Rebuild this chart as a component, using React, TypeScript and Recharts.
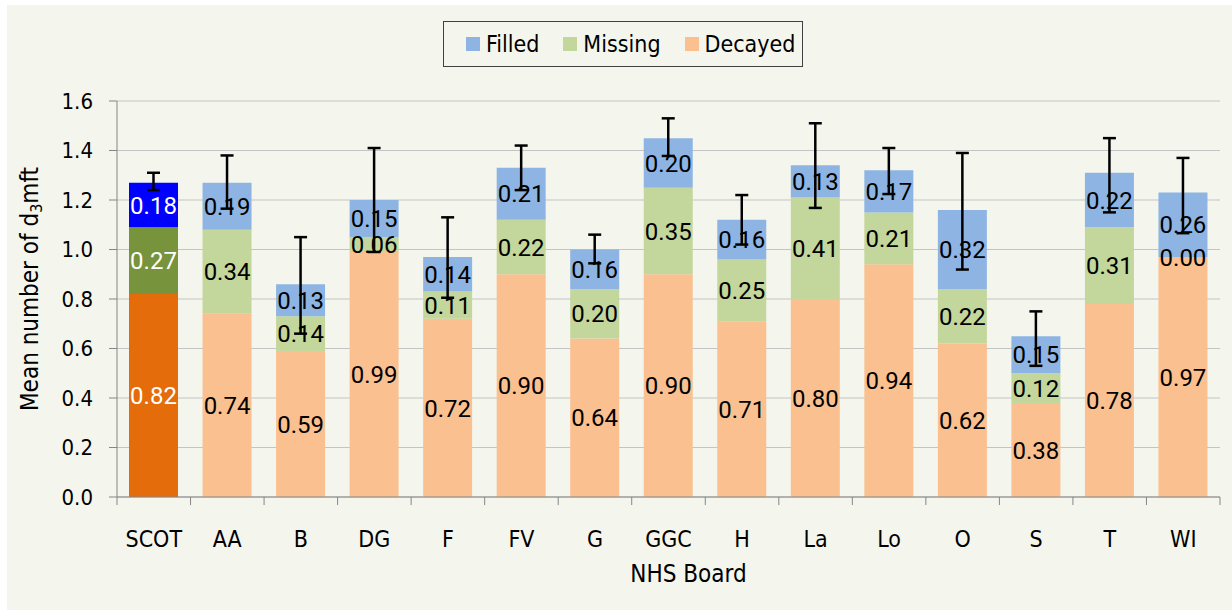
import { BarChart, Bar, XAxis, YAxis, CartesianGrid, ErrorBar, LabelList, Cell } from "recharts";

const boards = ["SCOT", "AA", "B", "DG", "F", "FV", "G", "GGC", "H", "La", "Lo", "O", "S", "T", "WI"];
const decayed = [0.82, 0.74, 0.59, 0.99, 0.72, 0.9, 0.64, 0.9, 0.71, 0.8, 0.94, 0.62, 0.38, 0.78, 0.97];
const missing = [0.27, 0.34, 0.14, 0.06, 0.11, 0.22, 0.2, 0.35, 0.25, 0.41, 0.21, 0.22, 0.12, 0.31, 0.0];
const filled = [0.18, 0.19, 0.13, 0.15, 0.14, 0.21, 0.16, 0.2, 0.16, 0.13, 0.17, 0.32, 0.15, 0.22, 0.26];
// 95% CI bounds of the total d3mft
const ciLow = [1.24, 1.165, 0.66, 0.99, 0.805, 1.24, 0.944, 1.378, 1.02, 1.168, 1.224, 0.919, 0.53, 1.15, 1.066];
const ciHigh = [1.31, 1.38, 1.05, 1.41, 1.13, 1.42, 1.06, 1.53, 1.22, 1.51, 1.41, 1.39, 0.75, 1.45, 1.37];
const yTicks = [0, 0.2, 0.4, 0.6, 0.8, 1.0, 1.2, 1.4, 1.6];

const data = boards.map((board, i) => {
  const total = decayed[i] + missing[i] + filled[i];
  return {
    board,
    decayed: decayed[i],
    missing: missing[i],
    filled: filled[i],
    err: [total - ciLow[i], ciHigh[i] - total],
  };
});

const W = 1225;
const H = 605;
const LEFT = 110;
const RIGHT = 12;
const PLOT_W = W - LEFT - RIGHT;
const HALF = PLOT_W / boards.length / 2;

const AXIS = "#868686";
const FONT = "'DejaVu Sans Condensed', 'DejaVu Sans', sans-serif";
const BG = "#F4F6EE";

const colors = {
  decayed: "#FAC090",
  missing: "#C3D69B",
  filled: "#8EB4E3",
};
const scotColors = {
  decayed: "#E46C0A",
  missing: "#77933C",
  filled: "#0000FF",
};

function BoardTick(props: any) {
  const { x, y, payload, index } = props;
  return (
    <g>
      <line x1={x - HALF} x2={x - HALF} y1={y} y2={y + 8} stroke={AXIS} />
      {index === boards.length - 1 && <line x1={x + HALF} x2={x + HALF} y1={y} y2={y + 8} stroke={AXIS} />}
      <text x={x} y={y + 50} textAnchor="middle" fontFamily={FONT} fontSize={23} fill="#000">
        {payload.value}
      </text>
    </g>
  );
}

function labelText(cx: number, cy: number, value: number, index: number) {
  return (
    <text
      x={cx}
      y={cy}
      dy="0.36em"
      textAnchor="middle"
      fontFamily="Roboto, sans-serif"
      fontSize={24}
      fill={index === 0 ? "#FFFFFF" : "#000000"}
    >
      {Number(value).toFixed(2)}
    </text>
  );
}

function ValueLabel(props: any) {
  const { x, y, width, height, value, index } = props;
  if (!height) return null;
  return labelText(x + width / 2, y + height / 2, value, index);
}

// zero-height "missing" segments: Recharts skips them, so label them at the top of the decayed segment
function ZeroMissingLabel(props: any) {
  const { x, y, width, value, index } = props;
  if (value !== 0) return null;
  return labelText(x + width / 2, y, value, index);
}

function YTitle(props: any) {
  const vb = props.viewBox;
  const cx = 23;
  const cy = vb.y + vb.height / 2 - 10;
  return (
    <text
      x={cx}
      y={cy}
      transform={`rotate(-90, ${cx}, ${cy})`}
      textAnchor="middle"
      dominantBaseline="central"
      fontFamily={FONT}
      fontSize={24}
      fill="#000"
    >
      Mean number of d
      <tspan fontSize={16} dy={6}>3</tspan>
      <tspan dy={-6}>mft</tspan>
    </text>
  );
}

function XTitle(props: any) {
  const vb = props.viewBox;
  return (
    <text
      x={vb.x + vb.width / 2 + 20}
      y={vb.y + 85}
      textAnchor="middle"
      fontFamily={FONT}
      fontSize={24}
      fill="#000"
    >
      NHS Board
    </text>
  );
}

const legendItems = [
  { name: "Filled", color: colors.filled },
  { name: "Missing", color: colors.missing },
  { name: "Decayed", color: colors.decayed },
];

export default function App() {
  return (
    <div style={{ position: "absolute", left: 7, top: 5, width: W, height: H, background: BG }}>
      <BarChart width={W} height={H} data={data} margin={{ top: 96, right: RIGHT, left: 0, bottom: 0 }} barSize={49}>
        <CartesianGrid vertical={false} stroke="#C4C4C4" />
        <XAxis
          dataKey="board"
          height={113}
          axisLine={{ stroke: AXIS }}
          tickLine={false}
          tickSize={0}
          tickMargin={0}
          tick={<BoardTick />}
          interval={0}
          label={{ content: <XTitle /> }}
        />
        <YAxis
          width={LEFT}
          domain={[0, 1.6]}
          ticks={yTicks}
          allowDataOverflow
          tickFormatter={(v: number) => v.toFixed(1)}
          axisLine={{ stroke: AXIS }}
          tickLine={{ stroke: AXIS }}
          tickSize={8}
          tickMargin={16}
          tick={{ fontFamily: FONT, fontSize: 22, fill: "#000" }}
          label={{ content: <YTitle /> }}
        />
        <Bar dataKey="decayed" stackId="a" isAnimationActive={false}>
          {data.map((d, i) => (
            <Cell key={d.board} fill={i === 0 ? scotColors.decayed : colors.decayed} />
          ))}
          <LabelList dataKey="decayed" content={<ValueLabel />} />
          <LabelList dataKey="missing" content={<ZeroMissingLabel />} />
        </Bar>
        <Bar dataKey="missing" stackId="a" isAnimationActive={false}>
          {data.map((d, i) => (
            <Cell key={d.board} fill={i === 0 ? scotColors.missing : colors.missing} />
          ))}
          <LabelList dataKey="missing" content={<ValueLabel />} />
        </Bar>
        <Bar dataKey="filled" stackId="a" isAnimationActive={false}>
          {data.map((d, i) => (
            <Cell key={d.board} fill={i === 0 ? scotColors.filled : colors.filled} />
          ))}
          <LabelList dataKey="filled" content={<ValueLabel />} />
          <ErrorBar dataKey="err" width={6.5} stroke="#000" strokeWidth={2.5} isAnimationActive={false} />
        </Bar>
      </BarChart>
      <div
        style={{
          position: "absolute",
          left: 436,
          top: 16,
          width: 360,
          height: 46,
          boxSizing: "border-box",
          border: "1px solid #404040",
          display: "flex",
          alignItems: "center",
          paddingLeft: 22,
          fontFamily: FONT,
          fontSize: 23,
          color: "#000",
        }}
      >
        {legendItems.map((it) => (
          <div key={it.name} style={{ display: "flex", alignItems: "center", marginRight: 24 }}>
            <span style={{ display: "inline-block", width: 14, height: 14, background: it.color, marginRight: 6 }} />
            <span>{it.name}</span>
          </div>
        ))}
      </div>
    </div>
  );
}
